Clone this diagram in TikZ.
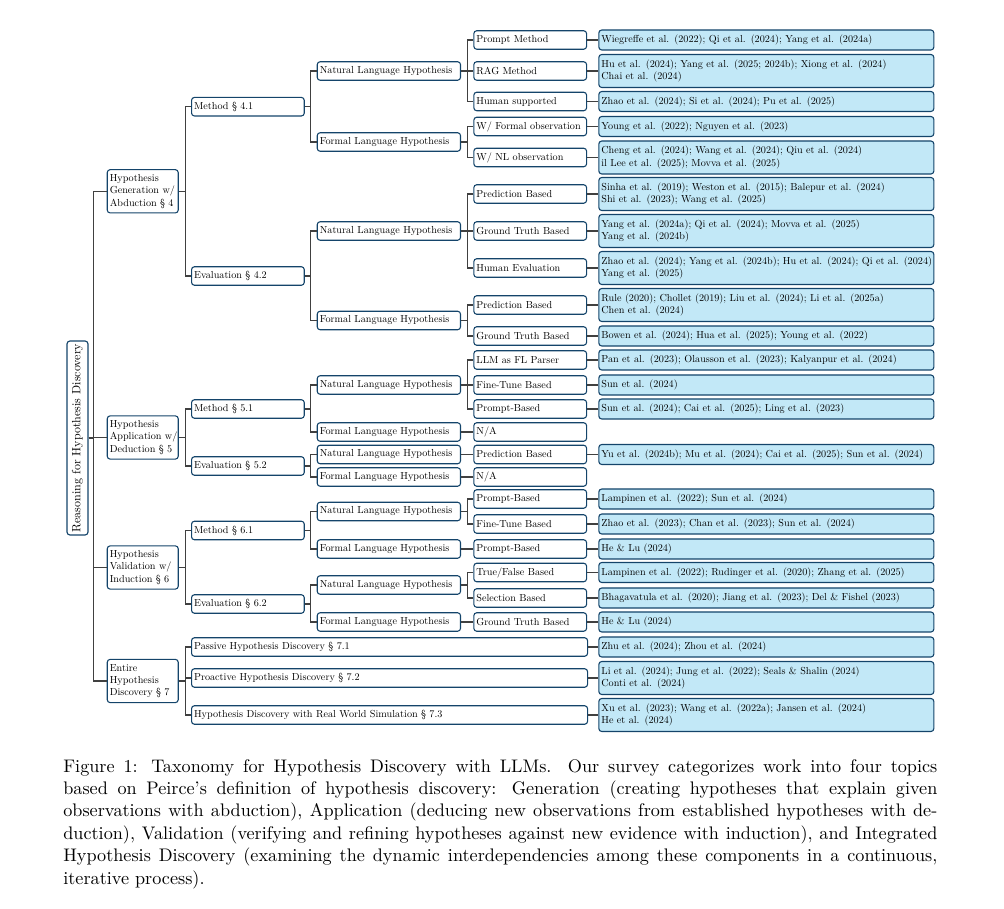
\documentclass[tikz,border=0pt]{standalone}
\usepackage{fontspec}
\newfontfamily\tf{lmroman10-regular.otf}
\definecolor{hidden-draw}{RGB}{20,68,106}
\definecolor{hidden-blue}{RGB}{194,232,247}
\definecolor{conncol}{RGB}{64,64,64}
\begin{document}
\begin{tikzpicture}[x=0.55pt,y=-0.55pt,
 box/.style={draw=hidden-draw,line width=0.6pt,rounded corners=1.6pt,anchor=west,inner xsep=1.4pt,inner ysep=0pt,align=left,font=\tf\fontsize{5.6}{6.8}\selectfont,minimum height=10.2pt},
 lvone/.style={box,text width=36.25pt,minimum height=23.8pt},
 lvtwo/.style={box,text width=59.2pt},
 lvthree/.style={box,text width=76pt},
 lvfour/.style={box,text width=59.2pt},
 wide/.style={box,text width=215pt},
 leaf/.style={box,fill=hidden-blue,text width=181.45pt,minimum height=11pt},
 leaftwo/.style={leaf,minimum height=18.15pt},
 rootbox/.style={draw=hidden-draw,line width=0.6pt,rounded corners=1.6pt,rotate=90,minimum width=106.7pt,minimum height=11.55pt,inner sep=0pt,font=\tf\fontsize{6.6}{8}\selectfont},
 conn/.style={draw=conncol,line width=0.6pt},
 captext/.style={anchor=base west,inner sep=0pt,font=\fontsize{10}{12.3}\selectfont}
]
\useasboundingbox (0,0) rectangle (1004,909);

% root
\node[rootbox] (root) at (77.5,438) {Reasoning for Hypothesis Discovery};

% level 1
\node[lvone] (g) at (106.7,191.3) {Hypothesis\\\mbox{Generation w/}\\\mbox{Abduction \S\ 4}};
\node[lvone] (a) at (106.7,437.5) {Hypothesis\\\mbox{Application w/}\\\mbox{Deduction \S\ 5}};
\node[lvone] (v) at (106.7,567.5) {Hypothesis\\\mbox{Validation w/}\\\mbox{Induction \S\ 6}};
\node[lvone] (e) at (106.7,681) {Entire\\Hypothesis\\\mbox{Discovery \S\ 7}};

% level 2
\node[lvtwo] (gm) at (191,106.7) {Method \S\ 4.1};
\node[lvtwo] (ge) at (191,276) {Evaluation \S\ 4.2};
\node[lvtwo] (am) at (191,409) {Method \S\ 5.1};
\node[lvtwo] (ae) at (191,466) {Evaluation \S\ 5.2};
\node[lvtwo] (vm) at (191,530.5) {Method \S\ 6.1};
\node[lvtwo] (ve) at (191,604) {Evaluation \S\ 6.2};
\node[wide] (e1) at (191,647) {Passive Hypothesis Discovery \S\ 7.1};
\node[wide] (e2) at (191,678) {Proactive Hypothesis Discovery \S\ 7.2};
\node[wide] (e3) at (191,715) {Hypothesis Discovery with Real World Simulation \S\ 7.3};

% level 3
\node[lvthree] (gmn) at (316.7,71) {Natural Language Hypothesis};
\node[lvthree] (gmf) at (316.7,142) {Formal Language Hypothesis};
\node[lvthree] (gen) at (316.7,231) {Natural Language Hypothesis};
\node[lvthree] (gef) at (316.7,320.5) {Formal Language Hypothesis};
\node[lvthree] (amn) at (316.7,385) {Natural Language Hypothesis};
\node[lvthree] (amf) at (316.7,432) {Formal Language Hypothesis};
\node[lvthree] (aen) at (316.7,454.5) {Natural Language Hypothesis};
\node[lvthree] (aef) at (316.7,477) {Formal Language Hypothesis};
\node[lvthree] (vmn) at (316.7,511.5) {Natural Language Hypothesis};
\node[lvthree] (vmf) at (316.7,549) {Formal Language Hypothesis};
\node[lvthree] (ven) at (316.7,585) {Natural Language Hypothesis};
\node[lvthree] (vef) at (316.7,622) {Formal Language Hypothesis};

% level 4
\node[lvfour] (t1) at (473.3,40) {Prompt Method};
\node[lvfour] (t2) at (473.3,71) {RAG Method};
\node[lvfour] (t3) at (473.3,101.5) {Human supported};
\node[lvfour] (t4) at (473.3,126.5) {W/ Formal observation};
\node[lvfour] (t5) at (473.3,157.5) {W/ NL observation};
\node[lvfour] (t6) at (473.3,194) {Prediction Based};
\node[lvfour] (t7) at (473.3,231) {Ground Truth Based};
\node[lvfour] (t8) at (473.3,268) {Human Evaluation};
\node[lvfour] (t9) at (473.3,305) {Prediction Based};
\node[lvfour] (t10) at (473.3,336) {Ground Truth Based};
\node[lvfour] (t11) at (473.3,360) {LLM as FL Parser};
\node[lvfour] (t12) at (473.3,385) {Fine-Tune Based};
\node[lvfour] (t13) at (473.3,409) {Prompt-Based};
\node[lvfour] (t14) at (473.3,432) {N/A};
\node[lvfour] (t15) at (473.3,454.5) {Prediction Based};
\node[lvfour] (t16) at (473.3,477) {N/A};
\node[lvfour] (t17) at (473.3,499) {Prompt-Based};
\node[lvfour] (t18) at (473.3,524) {Fine-Tune Based};
\node[lvfour] (t19) at (473.3,549) {Prompt-Based};
\node[lvfour] (t20) at (473.3,572.5) {True/False Based};
\node[lvfour] (t21) at (473.3,598) {Selection Based};
\node[lvfour] (t22) at (473.3,622) {Ground Truth Based};

% leaves
\node[leaf] (l1) at (598.3,40) {\mbox{Wiegreffe et al. (2022); Qi et al. (2024); Yang et al. (2024a)}};
\node[leaftwo] (l2) at (598.3,71) {\mbox{Hu et al. (2024); Yang et al. (2025; 2024b); Xiong et al. (2024)}\\Chai et al. (2024)};
\node[leaf] (l3) at (598.3,101.5) {\mbox{Zhao et al. (2024); Si et al. (2024); Pu et al. (2025)}};
\node[leaf] (l4) at (598.3,126.5) {\mbox{Young et al. (2022); Nguyen et al. (2023)}};
\node[leaftwo] (l5) at (598.3,157.5) {\mbox{Cheng et al. (2024); Wang et al. (2024); Qiu et al. (2024)}\\\mbox{il Lee et al. (2025); Movva et al. (2025)}};
\node[leaftwo] (l6) at (598.3,194) {\mbox{Sinha et al. (2019); Weston et al. (2015); Balepur et al. (2024)}\\\mbox{Shi et al. (2023); Wang et al. (2025)}};
\node[leaftwo] (l7) at (598.3,231) {\mbox{Yang et al. (2024a); Qi et al. (2024); Movva et al. (2025)}\\Yang et al. (2024b)};
\node[leaftwo] (l8) at (598.3,268) {\mbox{Zhao et al. (2024); Yang et al. (2024b); Hu et al. (2024); Qi et al. (2024)}\\Yang et al. (2025)};
\node[leaftwo] (l9) at (598.3,305) {\mbox{Rule (2020); Chollet (2019); Liu et al. (2024); Li et al. (2025a)}\\Chen et al. (2024)};
\node[leaf] (l10) at (598.3,336) {\mbox{Bowen et al. (2024); Hua et al. (2025); Young et al. (2022)}};
\node[leaf] (l11) at (598.3,360) {\mbox{Pan et al. (2023); Olausson et al. (2023); Kalyanpur et al. (2024)}};
\node[leaf] (l12) at (598.3,385) {Sun et al. (2024)};
\node[leaf] (l13) at (598.3,409) {\mbox{Sun et al. (2024); Cai et al. (2025); Ling et al. (2023)}};
\node[leaf] (l15) at (598.3,454.5) {\mbox{Yu et al. (2024b); Mu et al. (2024); Cai et al. (2025); Sun et al. (2024)}};
\node[leaf] (l17) at (598.3,499) {\mbox{Lampinen et al. (2022); Sun et al. (2024)}};
\node[leaf] (l18) at (598.3,524) {\mbox{Zhao et al. (2023); Chan et al. (2023); Sun et al. (2024)}};
\node[leaf] (l19) at (598.3,549) {He \& Lu (2024)};
\node[leaf] (l20) at (598.3,572.5) {\mbox{Lampinen et al. (2022); Rudinger et al. (2020); Zhang et al. (2025)}};
\node[leaf] (l21) at (598.3,598) {\mbox{Bhagavatula et al. (2020); Jiang et al. (2023); Del \& Fishel (2023)}};
\node[leaf] (l22) at (598.3,622) {He \& Lu (2024)};
\node[leaf] (le1) at (598.3,647) {\mbox{Zhu et al. (2024); Zhou et al. (2024)}};
\node[leaftwo] (le2) at (598.3,678) {\mbox{Li et al. (2024); Jung et al. (2022); Seals \& Shalin (2024)}\\Conti et al. (2024)};
\node[leaftwo] (le3) at (598.3,715) {\mbox{Xu et al. (2023); Wang et al. (2022a); Jansen et al. (2024)}\\He et al. (2024)};

% connectors
\foreach \c in {g,a,v,e} \draw[conn] (root.south) -- ++(5.3,0) |- (\c.west);
\foreach \p/\c in {g/gm,g/ge,a/am,a/ae,v/vm,v/ve,e/e1,e/e2,e/e3}
  \draw[conn] (\p.east) -- ++(6.3,0) |- (\c.west);
\foreach \p/\c in {gm/gmn,gm/gmf,ge/gen,ge/gef,am/amn,am/amf,ae/aen,ae/aef,vm/vmn,vm/vmf,ve/ven,ve/vef}
  \draw[conn] (\p.east) -- ++(5.6,0) |- (\c.west);
\foreach \p/\c in {gmn/t1,gmn/t2,gmn/t3,gmf/t4,gmf/t5,gen/t6,gen/t7,gen/t8,gef/t9,gef/t10,amn/t11,amn/t12,amn/t13,amf/t14,aen/t15,aef/t16,vmn/t17,vmn/t18,vmf/t19,ven/t20,ven/t21,vef/t22}
  \draw[conn] (\p.east) -- ++(6,0) |- (\c.west);
\foreach \p/\c in {t1/l1,t2/l2,t3/l3,t4/l4,t5/l5,t6/l6,t7/l7,t8/l8,t9/l9,t10/l10,t11/l11,t12/l12,t13/l13,t15/l15,t17/l17,t18/l18,t19/l19,t20/l20,t21/l21,t22/l22,e1/le1,e2/le2,e3/le3}
  \draw[conn] (\p.east) -- (\c.west);

% caption
\node[captext] (cap1) at (63,772) {\makebox[480.7pt][s]{Figure 1: Taxonomy for Hypothesis Discovery with LLMs. Our survey categorizes work into four topics}};
\node[captext] (cap2) at (63,794.4) {\makebox[480.7pt][s]{based on Peirce's definition of hypothesis discovery: Generation (creating hypotheses that explain given}};
\node[captext] (cap3) at (63,816.8) {\makebox[480.7pt][s]{observations with abduction), Application (deducing new observations from established hypotheses with de-}};
\node[captext] (cap4) at (63,839.2) {\makebox[480.7pt][s]{duction), Validation (verifying and refining hypotheses against new evidence with induction), and Integrated}};
\node[captext] (cap5) at (63,861.6) {\makebox[480.7pt][s]{Hypothesis Discovery (examining the dynamic interdependencies among these components in a continuous,}};
\node[captext] (cap6) at (63,884) {iterative process).};
\end{tikzpicture}
\end{document}
